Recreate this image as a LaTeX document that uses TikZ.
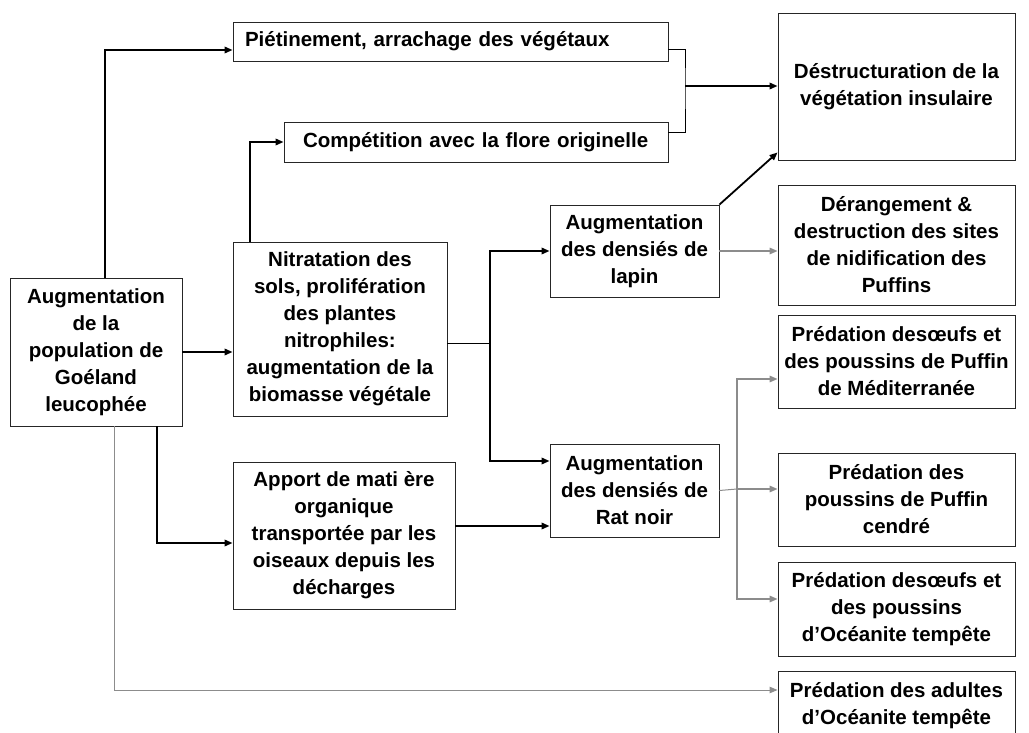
\documentclass[tikz,border=0pt]{standalone}
\usepackage{fontspec}
\setmainfont{Liberation Sans}
\usetikzlibrary{arrows.meta}

\begin{document}
\begin{tikzpicture}[
    x=1pt, y=-1pt,
    >={Triangle[length=8pt, width=6.5pt]},
    box/.style={draw=black!85, line width=0.9pt, inner sep=0pt, align=center,
        font=\fontsize{20.5}{27}\selectfont\bfseries},
    side/.style={box, minimum width=237pt},
    link/.style={line width=0.9pt},
    strong/.style={->, line width=1.8pt},
    pale/.style={->, line width=1.5pt, draw=black!45},
    paleline/.style={line width=1pt, draw=black!45},
  ]
  \useasboundingbox (0,0) rectangle (1029,733);

  % left and middle columns
  \node[box, minimum width=172pt, minimum height=148pt] (goeland) at (96,352)
    {Augmentation\\de la\\population de\\Goéland\\leucophée};
  \node[box, minimum height=39pt, inner xsep=12pt, text width=411pt, align=left] (pietin) at (450.5,41.5)
    {Piétinement, arrachage des végétaux};
  \node[box, minimum height=40pt, inner xsep=19pt, text width=346pt, align=left] (compet) at (476,142)
    {Compétition avec la flore originelle};
  \node[box, minimum width=214pt, minimum height=174pt] (nitrat) at (340,329)
    {Nitratation des\\sols, prolifération\\des plantes\\nitrophiles:\\augmentation de la\\biomasse végétale};
  \node[box, minimum width=222pt, minimum height=147pt] (apport) at (344,535.5)
    {Apport de mati ère\\organique\\transportée par les\\oiseaux depuis les\\décharges};
  \node[box, minimum width=169pt, minimum height=92pt] (lapin) at (634.5,251)
    {Augmentation\\des densiés de\\lapin};
  \node[box, minimum width=169pt, minimum height=93pt] (rat) at (634.5,490.5)
    {Augmentation\\des densiés de\\Rat noir};

  % right column
  \node[side, minimum height=147pt] (destruct) at (896.5,86.5)
    {Déstructuration de la\\végétation insulaire};
  \node[side, minimum height=120pt] (derang) at (896.5,245)
    {Dérangement \&\\destruction des sites\\de nidification des\\Puffins};
  \node[side, minimum height=93pt] (predmed) at (896.5,361.5)
    {Prédation desœufs et\\des poussins de Puffin\\de Méditerranée};
  \node[side, minimum height=93pt] (predcen) at (896.5,499.5)
    {Prédation des\\poussins de Puffin\\cendré};
  \node[side, minimum height=94pt] (predoce) at (896.5,609)
    {Prédation desœufs et\\des poussins\\d’Océanite tempête};
  \node[side, minimum height=69pt] (predadu) at (896.5,705.5)
    {Prédation des adultes\\d’Océanite tempête};

  \coordinate (vmerge) at (685,86);
  \coordinate (nsplit) at (490,343);
  \coordinate (rsplit) at (737,489);

  % from the gull population
  \draw[strong] ([xshift=9pt]goeland.north) |- ([yshift=-8.5pt]pietin.west);
  \draw[strong] ([xshift=-90pt]nitrat.north) |- (compet.west);
  \draw[strong] (goeland.east) -- (goeland.east -| nitrat.west);
  \draw[strong] ([xshift=61pt]goeland.south) |- ([yshift=-7.5pt]apport.west);
  \draw[paleline, ->] ([xshift=18pt]goeland.south) |- ([yshift=15.5pt]predadu.west);

  % vegetation
  \draw[link] ([yshift=-7.5pt]pietin.east) -| (vmerge) |- ([yshift=10pt]compet.east);
  \draw[strong] (vmerge) -- (vmerge -| destruct.west);
  \draw[link] ([yshift=-14pt]nitrat.east) -- (nsplit);
  \draw[strong] (nsplit) |- (lapin.west);
  \draw[strong] (nsplit) |- ([yshift=29.5pt]rat.west);
  \draw[strong] ([yshift=9.5pt]apport.east) -- ([yshift=9.5pt]apport.east -| rat.west);

  % rabbits and rats
  \draw[strong] (lapin.north east) -- ([yshift=8pt]destruct.south west);
  \draw[pale] (lapin.east) -- (lapin.east -| derang.west);
  \draw[paleline] (rat.east) -- (rsplit);
  \draw[pale] (rsplit) |- ([yshift=-17.5pt]predmed.west);
  \draw[pale] (rsplit) -- (rsplit -| predcen.west);
  \draw[pale] (rsplit) |- ([yshift=10pt]predoce.west);
\end{tikzpicture}
\end{document}
